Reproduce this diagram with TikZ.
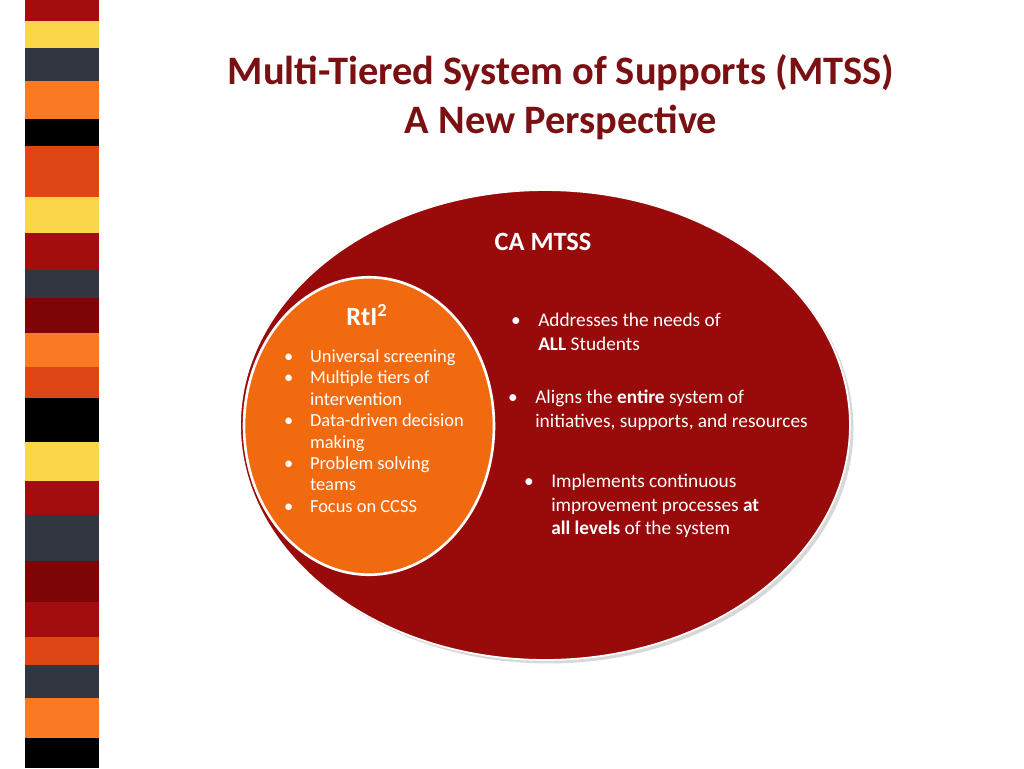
\documentclass[tikz,border=0pt]{standalone}
\usepackage{fontspec}
\setmainfont{Carlito}
\usetikzlibrary{shadows,shapes.geometric}
\definecolor{cRed}{HTML}{A30D0D}
\definecolor{cYel}{HTML}{FBD54A}
\definecolor{cDark}{HTML}{323640}
\definecolor{cOra}{HTML}{FA7A24}
\definecolor{cOrRed}{HTML}{DE4615}
\definecolor{cDRed}{HTML}{7E0505}
\definecolor{titleRed}{HTML}{7B1012}
\definecolor{mtssRed}{HTML}{990A0A}
\definecolor{rtiOra}{HTML}{F26A10}
\newcommand{\bul}{\makebox[1.4em][l]{\textbullet}}
\newcommand{\ind}{\hspace*{1.4em}}
\begin{document}
\begin{tikzpicture}[x=0.02cm,y=-0.02cm,
	blist/.style={text=white, align=left, anchor=west, font=\fontsize{11}{13.5}\selectfont},
	head/.style={text=white, font=\fontsize{15}{18}\selectfont\bfseries}
]
\useasboundingbox (0,0) rectangle (1024,768);
\fill[white] (0,0) rectangle (1024,768);

% stripe
\foreach \ya/\yb/\c in {0/21/cRed,21/48/cYel,48/81/cDark,81/119/cOra,119/146/black,
	146/197/cOrRed,197/233/cYel,233/270/cRed,270/298/cDark,298/333/cDRed,333/367/cOra,
	367/398/cOrRed,398/442/black,442/481/cYel,481/515/cRed,515/561/cDark,561/602/cDRed,
	602/637/cRed,637/665/cOrRed,665/698/cDark,698/738/cOra,738/768/black}
	\fill[\c] (25,\ya) rectangle (99,\yb);

% title
\node[text=titleRed, font=\fontsize{23}{28}\selectfont\bfseries, align=center] (title) at (561,97)
	{Multi-Tiered System of Supports (MTSS)\\A New Perspective};

% ellipses
\node[ellipse, fill=mtssRed, draw=white, line width=1pt, minimum width=12.2cm, minimum height=9.4cm,
	drop shadow={shadow xshift=2pt, shadow yshift=-2pt, opacity=0.3}] (mtss) at (545,425) {};
\node[ellipse, fill=rtiOra, draw=white, line width=1.5pt, minimum width=5.0cm, minimum height=5.95cm] (rti) at (369,426) {};

% labels
\node[head] (mtsshead) at (543,242) {CA MTSS};
\node[head] (rtihead) at (367,315) {RtI\textsuperscript{2}};

\node[blist, font=\fontsize{10.5}{12.2}\selectfont] (rtilist) at (278,431) {%
\bul Universal screening\\
\bul Multiple tiers of\\
\ind intervention\\
\bul Data-driven decision\\
\ind making\\
\bul Problem solving\\
\ind teams\\
\bul Focus on CCSS};

\node[blist] (needs) at (505,332)
	{\bul Addresses the needs of\\\ind\textbf{ALL} Students};
\node[blist] (aligns) at (502,410)
	{\bul Aligns the \textbf{entire} system of\\\ind initiatives, supports, and resources};
\node[blist] (impl) at (518,506)
	{\bul Implements continuous\\\ind improvement processes \textbf{at}\\\ind\textbf{all levels} of the system};
\end{tikzpicture}
\end{document}
